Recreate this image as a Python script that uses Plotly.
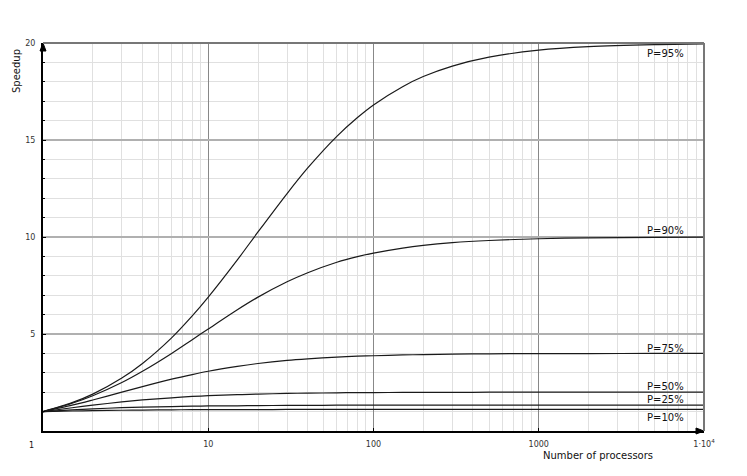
import plotly.graph_objects as go

# number of processors (sample points read along the x axis)
n_procs = [1, 1.5, 2, 3, 4, 6, 8, 10, 15, 20, 30, 40, 60, 80, 100, 150, 200, 300, 500, 1000, 2000, 5000, 10000]

# speedup at those points
speedup_95 = [1.0, 1.46, 1.9, 2.73, 3.48, 4.8, 5.93, 6.9, 8.82, 10.26, 12.24, 13.56, 15.19, 16.16, 16.81, 17.75, 18.27, 18.81, 19.27, 19.63, 19.81, 19.92, 19.96]
speedup_90 = [1.0, 1.43, 1.82, 2.5, 3.08, 4.0, 4.71, 5.26, 6.25, 6.9, 7.69, 8.16, 8.7, 8.99, 9.17, 9.43, 9.57, 9.71, 9.82, 9.91, 9.96, 9.98, 9.99]
speedup_75 = [1.0, 1.33, 1.6, 2.0, 2.29, 2.67, 2.91, 3.08, 3.33, 3.48, 3.64, 3.72, 3.81, 3.86, 3.88, 3.92, 3.94, 3.96, 3.98, 3.99, 3.99, 4.0, 4.0]
speedup_50 = [1.0, 1.2, 1.33, 1.5, 1.6, 1.71, 1.78, 1.82, 1.88, 1.9, 1.94, 1.95, 1.97, 1.98, 1.98, 1.99, 1.99, 1.99, 2.0, 2.0, 2.0, 2.0, 2.0]
speedup_25 = [1.0, 1.09, 1.14, 1.2, 1.23, 1.26, 1.28, 1.29, 1.3, 1.31, 1.32, 1.32, 1.33, 1.33, 1.33, 1.33, 1.33, 1.33, 1.33, 1.33, 1.33, 1.33, 1.33]
speedup_10 = [1.0, 1.03, 1.05, 1.07, 1.08, 1.09, 1.1, 1.1, 1.1, 1.1, 1.11, 1.11, 1.11, 1.11, 1.11, 1.11, 1.11, 1.11, 1.11, 1.11, 1.11, 1.11, 1.11]

series = [
    ("P=95%", speedup_95, 53),
    ("P=90%", speedup_90, 230),
    ("P=75%", speedup_75, 348),
    ("P=50%", speedup_50, 386),
    ("P=25%", speedup_25, 399),
    ("P=10%", speedup_10, 417),
]

x_tick_vals = [10, 100, 1000, 10000]
x_tick_text = ["10", "100", "1000", "1·10<sup>4</sup>"]

# plot area in page pixels (the page body adds an 8px margin)
PAGE_MARGIN = 8
X0, X1, Y0, Y1 = 43, 704, 43, 431
W, H = 747 - PAGE_MARGIN, 476 - PAGE_MARGIN
font = "DejaVu Sans"


def px_x(px):
    return (px - X0) / (X1 - X0)


def px_y(py):
    return 1 - (py - Y0) / (Y1 - Y0)


def label(text, x, y, size, **kw):
    fig.add_annotation(x=px_x(x), y=px_y(y), xref='paper', yref='paper', text=text,
                       showarrow=False, yanchor='middle',
                       font=dict(family=font, size=size, color='#111'), **kw)


fig = go.Figure()
for name, vals, label_y in series:
    fig.add_trace(go.Scatter(
        x=n_procs,
        y=vals,
        mode='lines',
        name=name,
        line=dict(color='#1a1a1a', width=1.2, shape='spline', smoothing=0.8),
        showlegend=False
    ))
    label(name, 686, label_y, 10, xanchor='right')

# axis titles and the lone "1" label
label("Number of processors", 598, 455, 10, xanchor='center')
label("Speedup", 17, 71, 10, xanchor='center', textangle=-90)
label("1", 31, 445, 8, xanchor='center')

# little arrow heads at the axis ends
fig.add_shape(type='path', xref='paper', yref='paper', xsizemode='pixel', ysizemode='pixel',
              xanchor=0, yanchor=1, path="M-3,-8 L0,0 L3,-8 Z",
              fillcolor='black', line=dict(color='black', width=1))
fig.add_shape(type='path', xref='paper', yref='paper', xsizemode='pixel', ysizemode='pixel',
              xanchor=1, yanchor=0, path="M-8,-3 L0,0 L-8,3 Z",
              fillcolor='black', line=dict(color='black', width=1))

# top and right frame
fig.add_shape(type='line', xref='paper', yref='paper', x0=0, x1=1, y0=1, y1=1,
              line=dict(color='#777', width=2))
fig.add_shape(type='line', xref='paper', yref='paper', x0=1, x1=1, y0=0, y1=1,
              line=dict(color='#777', width=2))

fig.update_layout(
    width=W, height=H,
    margin=dict(l=X0 - PAGE_MARGIN, r=747 - X1, t=Y0 - PAGE_MARGIN, b=476 - Y1),
    plot_bgcolor='white', paper_bgcolor='white',
    font=dict(family=font, size=8, color='#333'),
    xaxis=dict(
        type='log', range=[0, 4], tickvals=x_tick_vals, ticktext=x_tick_text,
        showline=True, linecolor='black', linewidth=2,
        ticks='inside', ticklen=3, tickcolor='black',
        showgrid=True, gridcolor='#888', gridwidth=1,
        minor=dict(dtick="D1", showgrid=True, gridcolor='#e0e0e0', gridwidth=1),
        zeroline=False, ticklabelstandoff=4
    ),
    yaxis=dict(
        range=[0, 20], tickvals=[5, 10, 15, 20],
        showline=True, linecolor='black', linewidth=2,
        ticks='inside', ticklen=3, tickcolor='black',
        showgrid=True, gridcolor='#b0b0b0', gridwidth=1.5,
        minor=dict(dtick=1, showgrid=True, gridcolor='#e0e0e0', gridwidth=1,
                   ticks='inside', ticklen=2, tickcolor='black'),
        zeroline=False, ticklabelstandoff=4
    ),
)

fig.write_html("out.html")
